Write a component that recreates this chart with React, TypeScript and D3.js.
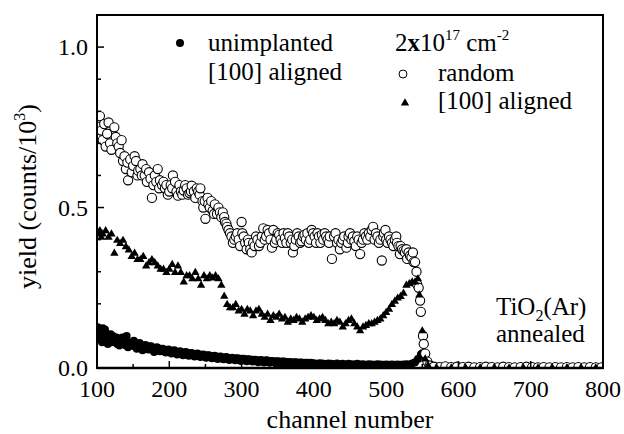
import React from "react";
import * as d3 from "d3";

// ---- data (channel, yield in counts/10^3) ----
const randomData: [number, number][] = [
  [100,0.72],[102,0.78],[104,0.785],[106,0.74],[108,0.71],[110,0.76],[112,0.69],[114,0.73],[116,0.765],[118,0.70],
  [120,0.68],[124,0.75],[126,0.72],[128,0.70],[130,0.69],[132,0.67],[134,0.71],[136,0.645],[138,0.66],[140,0.62],
  [142,0.64],[143,0.585],[146,0.65],[148,0.61],[150,0.63],[152,0.66],[154,0.645],[156,0.60],[157,0.615],[160,0.62],
  [162,0.60],[163,0.635],[166,0.60],[168,0.62],[169,0.58],[172,0.61],[174,0.59],[176,0.53],[178,0.57],[180,0.60],
  [182,0.58],[184,0.62],[186,0.56],[187,0.585],[190,0.57],[192,0.58],[194,0.56],[196,0.57],[198,0.54],[200,0.55],
  [202,0.57],[204,0.56],[205,0.60],[208,0.58],[210,0.55],[212,0.537],[214,0.57],[216,0.55],[218,0.54],[220,0.553],
  [222,0.57],[224,0.56],[226,0.54],[228,0.545],[230,0.55],[231,0.568],[234,0.55],[236,0.53],[238,0.56],[240,0.55],
  [242,0.54],[243,0.56],[246,0.52],[247,0.50],[249,0.52],[250,0.465],[253,0.53],[254,0.51],[256,0.50],[258,0.52],
  [260,0.49],[262,0.48],[263,0.51],[266,0.48],[268,0.50],[270,0.485],[272,0.47],[274,0.485],[276,0.47],[277,0.455],
  [279,0.45],[280,0.44],[282,0.43],[284,0.42],[286,0.41],[288,0.39],[290,0.40],[292,0.41],[294,0.42],[296,0.40],
  [298,0.38],[300,0.455],[301,0.42],[303,0.41],[305,0.39],[307,0.37],[309,0.40],[310,0.39],[312,0.37],[314,0.36],
  [316,0.39],[318,0.38],[320,0.41],[322,0.40],[324,0.38],[326,0.39],[328,0.41],[330,0.435],[332,0.40],[334,0.41],
  [336,0.43],[338,0.42],[340,0.40],[342,0.375],[344,0.43],[346,0.39],[348,0.40],[350,0.42],[352,0.415],[354,0.40],
  [356,0.39],[358,0.42],[360,0.405],[362,0.39],[364,0.42],[366,0.41],[368,0.39],[370,0.40],[371,0.36],[373,0.38],
  [375,0.40],[377,0.42],[379,0.41],[381,0.39],[383,0.395],[385,0.41],[387,0.415],[389,0.40],[391,0.42],[393,0.39],
  [395,0.40],[397,0.43],[399,0.42],[401,0.41],[403,0.39],[405,0.42],[407,0.41],[409,0.39],[411,0.415],[413,0.40],
  [415,0.42],[417,0.41],[419,0.40],[421,0.39],[422,0.41],[425,0.34],[428,0.41],[430,0.42],[432,0.39],[434,0.40],
  [436,0.37],[438,0.39],[440,0.40],[442,0.41],[445,0.375],[447,0.39],[448,0.41],[450,0.42],[452,0.40],[454,0.41],
  [456,0.395],[458,0.38],[460,0.41],[462,0.40],[464,0.355],[466,0.39],[468,0.40],[470,0.42],[472,0.41],[474,0.40],
  [476,0.42],[478,0.41],[480,0.43],[482,0.44],[484,0.40],[486,0.42],[488,0.41],[490,0.39],[492,0.40],[494,0.335],
  [496,0.41],[497,0.42],[499,0.43],[500,0.40],[502,0.39],[504,0.41],[506,0.40],[508,0.39],[510,0.38],[512,0.40],
  [514,0.41],[515,0.39],[517,0.38],[519,0.355],[520,0.38],[522,0.37],[524,0.365],[526,0.36],[528,0.37],[529,0.34],
  [531,0.36],[533,0.35],[535,0.345],[537,0.36],[538,0.33],[540,0.33],[542,0.30],[543,0.26],[545,0.25],[547,0.21],
  [548,0.175],[551,0.10],[552,0.075],[554,0.045],[557,0.02],[560,0.008],
  [566,0.004],[574,0.003],[582,0.005],[590,0.003],[598,0.004],[606,0.003],[614,0.004],[622,0.002],[630,0.003],[638,0.004],
  [646,0.003],[654,0.002],[662,0.004],[670,0.003],[678,0.002],[686,0.003],[694,0.004],[702,0.003],[710,0.002],[718,0.003],
  [726,0.002],[734,0.003],[742,0.002],[750,0.003],[758,0.002],[766,0.003],[774,0.002],[782,0.003],[790,0.002],[798,0.002]
];

const alignedData: [number, number][] = [
  [100,0.43],[102,0.42],[104,0.43],[106,0.41],[108,0.42],[112,0.43],[116,0.41],[120,0.42],[124,0.36],[128,0.40],[132,0.39],[136,0.40],
  [140,0.38],[144,0.37],[148,0.35],[152,0.36],[156,0.34],[160,0.34],[164,0.35],[168,0.32],[172,0.33],[176,0.34],
  [180,0.33],[184,0.32],[188,0.31],[192,0.31],[196,0.30],[200,0.31],[204,0.325],[208,0.30],[212,0.32],[216,0.30],
  [220,0.27],[224,0.29],[228,0.29],[232,0.28],[236,0.30],[240,0.28],[244,0.26],[248,0.29],[252,0.28],[256,0.29],
  [260,0.283],[264,0.29],[268,0.28],[272,0.26],[276,0.226],[280,0.20],[284,0.19],[288,0.19],[292,0.20],[296,0.18],
  [300,0.185],[304,0.17],[308,0.185],[312,0.18],[316,0.165],[320,0.18],[324,0.185],[328,0.17],[332,0.16],[336,0.17],
  [340,0.15],[344,0.165],[348,0.16],[352,0.17],[356,0.155],[360,0.16],[364,0.145],[368,0.155],[372,0.15],[376,0.16],
  [380,0.155],[384,0.145],[388,0.155],[392,0.16],[396,0.165],[400,0.16],[404,0.15],[408,0.155],[412,0.16],[416,0.15],
  [420,0.14],[424,0.145],[428,0.14],[432,0.15],[436,0.145],[440,0.13],[444,0.14],[448,0.15],[452,0.155],[456,0.14],
  [460,0.13],[464,0.118],[468,0.13],[472,0.135],[476,0.14],[480,0.14],[484,0.145],[488,0.15],[492,0.155],[496,0.165],
  [500,0.175],[504,0.185],[508,0.20],[512,0.21],[516,0.22],[520,0.225],[524,0.235],[528,0.26],[532,0.265],[536,0.27],
  [540,0.27],[544,0.28],[546,0.23],[550,0.118],[554,0.03],[558,0.01],
  [570,0.002],[590,0.002],[610,0.002],[630,0.002],[650,0.002],[670,0.002],[690,0.002],[710,0.002],[730,0.002],[750,0.002],[770,0.002],[790,0.002]
];

const unimplantedData: [number, number][] = [
  [100,0.11],[101,0.127],[102,0.09],[103,0.105],[104,0.12],[106,0.10],[107,0.08],[108,0.124],[110,0.085],[111,0.12],
  [112,0.11],[114,0.095],[115,0.075],[116,0.09],[119,0.105],[120,0.08],[122,0.10],[123,0.09],[124,0.085],[127,0.095],
  [128,0.075],[131,0.07],[132,0.09],[135,0.095],[136,0.08],[139,0.085],[140,0.07],[141,0.10],[143,0.065],[144,0.075],
  [147,0.07],[148,0.08],[151,0.085],[152,0.068],[155,0.06],[156,0.072],[159,0.078],[160,0.065],[163,0.055],[164,0.07],
  [167,0.072],[168,0.06],[171,0.058],[172,0.068],[175,0.068],[176,0.058],[179,0.05],[180,0.06],[183,0.065],[184,0.055],
  [187,0.052],[188,0.06],[191,0.06],[192,0.052],[195,0.048],[196,0.056],[199,0.058],[200,0.05],[203,0.045],[204,0.054],
  [207,0.055],[208,0.047],[211,0.042],[212,0.05],[215,0.052],[216,0.045],[219,0.04],[220,0.048],[223,0.05],[224,0.042],
  [227,0.038],[228,0.046],[231,0.047],[232,0.04],[235,0.036],[236,0.043],[239,0.045],[240,0.038],[243,0.034],[244,0.041],
  [247,0.042],[248,0.036],[251,0.032],[252,0.04],[255,0.04],[256,0.034],[259,0.03],[260,0.037],[263,0.038],[264,0.032],
  [267,0.028],[268,0.035],[271,0.036],[272,0.03],[275,0.027],[276,0.033],[279,0.034],[280,0.029],[283,0.025],[284,0.031],
  [287,0.032],[288,0.028],[291,0.024],[292,0.03],[295,0.03],[296,0.026],[299,0.022],[300,0.029],[303,0.029],[304,0.025],
  [307,0.021],[308,0.027],[311,0.027],[312,0.023],[315,0.02],[316,0.026],[319,0.026],[320,0.022],[323,0.018],[324,0.024],
  [327,0.025],[328,0.021],[331,0.017],[332,0.023],[335,0.024],[336,0.02],[339,0.016],[340,0.022],[343,0.022],[344,0.019],
  [347,0.015],[348,0.021],[351,0.021],[352,0.018],[355,0.014],[356,0.02],[359,0.02],[360,0.017],[363,0.013],[364,0.019],
  [367,0.019],[368,0.016],[371,0.013],[372,0.018],[375,0.018],[376,0.016],[379,0.012],[380,0.017],[383,0.017],[384,0.015],
  [387,0.012],[388,0.016],[391,0.016],[392,0.014],[395,0.011],[396,0.016],[400,0.015],[404,0.013],[408,0.015],[412,0.014],
  [416,0.012],[420,0.014],[424,0.013],[428,0.012],[432,0.014],[436,0.012],[440,0.013],[444,0.011],[448,0.013],[452,0.012],
  [456,0.011],[460,0.013],[464,0.011],[468,0.012],[472,0.01],[476,0.012],[480,0.011],[484,0.01],[488,0.012],[492,0.011],
  [496,0.01],[500,0.011],[504,0.01],[508,0.011],[512,0.01],[516,0.011],[520,0.01],[524,0.011],[528,0.012],[532,0.011],
  [536,0.014],[540,0.018],[544,0.028],[548,0.042],[550,0.046],[552,0.04],[555,0.028],[558,0.016],[562,0.009],[566,0.006],
  [570,0.005],[574,0.004],[578,0.004],[582,0.003],[586,0.003],[590,0.004],[594,0.003],[598,0.003],[602,0.004],[606,0.003],
  [610,0.003],[614,0.003],[618,0.002],[622,0.003],[626,0.003],[630,0.002],[634,0.003],[638,0.003],[642,0.002],[646,0.003],
  [650,0.002],[654,0.003],[658,0.002],[662,0.003],[666,0.002],[670,0.003],[674,0.002],[678,0.002],[682,0.003],[686,0.002],
  [690,0.002],[694,0.003],[698,0.003],[702,0.002],[706,0.002],[710,0.003],[714,0.002],[718,0.002],[722,0.002],[726,0.003],
  [730,0.002],[734,0.002],[738,0.002],[742,0.002],[746,0.002],[750,0.002],[754,0.002],[758,0.002],[762,0.002],[766,0.002],
  [770,0.002],[774,0.002],[778,0.002],[782,0.002],[786,0.002],[790,0.002],[794,0.002],[798,0.002]
];

const xTickLabels = [100, 200, 300, 400, 500, 600, 700, 800];
const yTickLabels = [0.0, 0.5, 1.0];

const W = 624, H = 434;
const M = { left: 97, right: 603, top: 15, bottom: 368 };
const FF = "Liberation Serif";

export default function App() {
  const x = d3.scaleLinear().domain([100, 800]).range([M.left, M.right]);
  const y = d3.scaleLinear().domain([0, 1.1]).range([M.bottom, M.top]);
  const tri = d3.symbol().type(d3.symbolTriangle).size(30)() as string;

  const xMinor = d3.range(150, 800, 100);
  const yMinor = d3.range(0.1, 1.1, 0.1).filter((v) => Math.abs(v - 0.5) > 1e-6 && Math.abs(v - 1.0) > 1e-6);

  return (
    <svg width={W} height={H} style={{ position: "absolute", left: 0, top: 0 }}>
      <style>{`text, tspan { font-family: "Liberation Serif", "Times New Roman", serif !important; }`}</style>
      <defs>
        <clipPath id="plot">
          <rect x={M.left} y={M.top} width={M.right - M.left} height={M.bottom - M.top} />
        </clipPath>
      </defs>
      <rect width={W} height={H} fill="#fff" />
      <g clipPath="url(#plot)">
        {unimplantedData.map(([c, v], i) => (
          <circle key={"u" + i} cx={x(c)} cy={y(v)} r={4} fill="#000" />
        ))}
        {randomData.map(([c, v], i) => (
          <circle key={"r" + i} cx={x(c)} cy={y(v)} r={4.6} fill="#fff" stroke="#000" strokeWidth={1.1} />
        ))}
        {alignedData.map(([c, v], i) => (
          <path key={"a" + i} d={tri} transform={`translate(${x(c)},${y(v) + 0.8})`} fill="#000" />
        ))}
      </g>
      {/* frame */}
      <rect x={M.left} y={M.top} width={M.right - M.left} height={M.bottom - M.top} fill="none" stroke="#000" strokeWidth={2} />
      <line x1={M.left} x2={M.right} y1={M.bottom} y2={M.bottom} stroke="#000" strokeWidth={2.5} />
      {/* x ticks */}
      {xTickLabels.map((t) => (
        <g key={"xt" + t}>
          <line x1={x(t)} x2={x(t)} y1={M.bottom} y2={M.bottom - 7} stroke="#000" strokeWidth={1.5} />
          <text x={x(t)} y={397} fontSize={24} textAnchor="middle" fontFamily={FF}>{t}</text>
        </g>
      ))}
      {xMinor.map((t) => (
        <line key={"xm" + t} x1={x(t)} x2={x(t)} y1={M.bottom} y2={M.bottom - 4} stroke="#000" strokeWidth={1.5} />
      ))}
      {/* y ticks */}
      {yTickLabels.map((t) => (
        <g key={"yt" + t}>
          <line x1={M.left} x2={M.left + 7} y1={y(t)} y2={y(t)} stroke="#000" strokeWidth={1.5} />
          <text x={88} y={y(t) + 8} fontSize={24} textAnchor="end" fontFamily={FF}>{t.toFixed(1)}</text>
        </g>
      ))}
      {yMinor.map((t) => (
        <line key={"ym" + t} x1={M.left} x2={M.left + 4} y1={y(t)} y2={y(t)} stroke="#000" strokeWidth={1.5} />
      ))}
      {/* axis titles */}
      <text x={350} y={428} fontSize={26} textAnchor="middle" fontFamily={FF}>channel number</text>
      <text transform={`translate(36,${(M.top + M.bottom) / 2 + 5}) rotate(-90)`} fontSize={26} textAnchor="middle" fontFamily={FF}>
        yield (counts/10<tspan fontSize={16} dy={-11}>3</tspan><tspan dy={11}>)</tspan>
      </text>
      {/* legend left */}
      <circle cx={180} cy={43} r={4} fill="#000" />
      <text x={208} y={51} fontSize={25} fontFamily={FF}>unimplanted</text>
      <text x={208} y={80} fontSize={25} fontFamily={FF}>[100] aligned</text>
      {/* legend right */}
      <text x={395} y={51} fontSize={25} fontFamily={FF}>
        2<tspan fontWeight="bold">x</tspan>10<tspan fontSize={15} dy={-11}>17</tspan>
        <tspan dy={11}> cm</tspan><tspan fontSize={15} dy={-11}>-2</tspan>
      </text>
      <circle cx={403} cy={74} r={4} fill="#fff" stroke="#000" strokeWidth={1} />
      <text x={438} y={81} fontSize={25} fontFamily={FF}>random</text>
      <path d={tri} transform="translate(405,103)" fill="#000" />
      <text x={438} y={109} fontSize={25} fontFamily={FF}>[100] aligned</text>
      {/* annotation */}
      <text x={496} y={315} fontSize={25} fontFamily={FF}>
        TiO<tspan fontSize={16} dy={6}>2</tspan><tspan dy={-6}>(Ar)</tspan>
      </text>
      <text x={496} y={342} fontSize={25} fontFamily={FF}>annealed</text>
    </svg>
  );
}
